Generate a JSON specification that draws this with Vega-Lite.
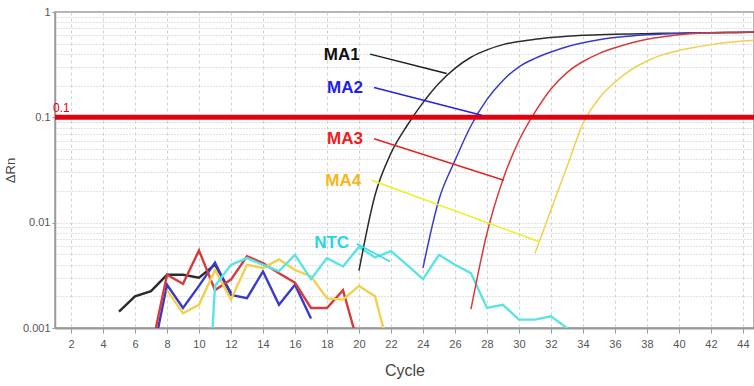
{
  "$schema": "https://vega.github.io/schema/vega-lite/v6.json",
  "width": 699,
  "height": 316,
  "autosize": {"type": "none"},
  "padding": {"left": 55, "top": 12, "right": 0, "bottom": 58},
  "background": "white",
  "config": {
    "view": {"stroke": "#9a9a9a", "strokeWidth": 1.5},
    "axis": {
      "labelFont": "Liberation Sans Narrow, Liberation Sans, Arial, sans-serif",
      "titleFont": "Liberation Sans, Arial, sans-serif",
      "titleFontWeight": "normal",
      "labelColor": "#555555",
      "titleColor": "#444444",
      "domainColor": "#9a9a9a",
      "tickColor": "#9a9a9a"
    }
  },
  "datasets": {
    "curves": [
      {"series": "MA1", "part": "noise", "cycle": 5, "rn": 0.00143},
      {"series": "MA1", "part": "noise", "cycle": 6, "rn": 0.0020},
      {"series": "MA1", "part": "noise", "cycle": 7, "rn": 0.00224},
      {"series": "MA1", "part": "noise", "cycle": 8, "rn": 0.0032},
      {"series": "MA1", "part": "noise", "cycle": 9, "rn": 0.0032},
      {"series": "MA1", "part": "noise", "cycle": 10, "rn": 0.0030},
      {"series": "MA1", "part": "noise", "cycle": 11, "rn": 0.0040},
      {"series": "MA1", "part": "noise", "cycle": 12, "rn": 0.00214},
      {"series": "MA1", "part": "amp", "cycle": 20, "rn": 0.0035},
      {"series": "MA1", "part": "amp", "cycle": 21, "rn": 0.0182},
      {"series": "MA1", "part": "amp", "cycle": 22, "rn": 0.0457},
      {"series": "MA1", "part": "amp", "cycle": 23, "rn": 0.0832},
      {"series": "MA1", "part": "amp", "cycle": 24, "rn": 0.138},
      {"series": "MA1", "part": "amp", "cycle": 25, "rn": 0.211},
      {"series": "MA1", "part": "amp", "cycle": 26, "rn": 0.292},
      {"series": "MA1", "part": "amp", "cycle": 27, "rn": 0.372},
      {"series": "MA1", "part": "amp", "cycle": 28, "rn": 0.437},
      {"series": "MA1", "part": "amp", "cycle": 29, "rn": 0.490},
      {"series": "MA1", "part": "amp", "cycle": 30, "rn": 0.525},
      {"series": "MA1", "part": "amp", "cycle": 31, "rn": 0.550},
      {"series": "MA1", "part": "amp", "cycle": 32, "rn": 0.572},
      {"series": "MA1", "part": "amp", "cycle": 33, "rn": 0.588},
      {"series": "MA1", "part": "amp", "cycle": 34, "rn": 0.600},
      {"series": "MA1", "part": "amp", "cycle": 35, "rn": 0.608},
      {"series": "MA1", "part": "amp", "cycle": 36, "rn": 0.614},
      {"series": "MA1", "part": "amp", "cycle": 37, "rn": 0.619},
      {"series": "MA1", "part": "amp", "cycle": 38, "rn": 0.623},
      {"series": "MA1", "part": "amp", "cycle": 39, "rn": 0.627},
      {"series": "MA1", "part": "amp", "cycle": 40, "rn": 0.630},
      {"series": "MA1", "part": "amp", "cycle": 41, "rn": 0.633},
      {"series": "MA1", "part": "amp", "cycle": 42, "rn": 0.636},
      {"series": "MA1", "part": "amp", "cycle": 43, "rn": 0.638},
      {"series": "MA1", "part": "amp", "cycle": 44, "rn": 0.640},
      {"series": "MA1", "part": "amp", "cycle": 45, "rn": 0.642},

      {"series": "MA2", "part": "noise", "cycle": 7, "rn": 0.00046},
      {"series": "MA2", "part": "noise", "cycle": 8, "rn": 0.00257},
      {"series": "MA2", "part": "noise", "cycle": 9, "rn": 0.00155},
      {"series": "MA2", "part": "noise", "cycle": 10, "rn": 0.00251},
      {"series": "MA2", "part": "noise", "cycle": 11, "rn": 0.00417},
      {"series": "MA2", "part": "noise", "cycle": 12, "rn": 0.00206},
      {"series": "MA2", "part": "noise", "cycle": 13, "rn": 0.00192},
      {"series": "MA2", "part": "noise", "cycle": 14, "rn": 0.00344},
      {"series": "MA2", "part": "noise", "cycle": 15, "rn": 0.00166},
      {"series": "MA2", "part": "noise", "cycle": 16, "rn": 0.00257},
      {"series": "MA2", "part": "noise", "cycle": 17, "rn": 0.00123},
      {"series": "MA2", "part": "amp", "cycle": 24, "rn": 0.00372},
      {"series": "MA2", "part": "amp", "cycle": 25, "rn": 0.0166},
      {"series": "MA2", "part": "amp", "cycle": 26, "rn": 0.0389},
      {"series": "MA2", "part": "amp", "cycle": 27, "rn": 0.0832},
      {"series": "MA2", "part": "amp", "cycle": 28, "rn": 0.148},
      {"series": "MA2", "part": "amp", "cycle": 29, "rn": 0.224},
      {"series": "MA2", "part": "amp", "cycle": 30, "rn": 0.302},
      {"series": "MA2", "part": "amp", "cycle": 31, "rn": 0.363},
      {"series": "MA2", "part": "amp", "cycle": 32, "rn": 0.417},
      {"series": "MA2", "part": "amp", "cycle": 33, "rn": 0.468},
      {"series": "MA2", "part": "amp", "cycle": 34, "rn": 0.510},
      {"series": "MA2", "part": "amp", "cycle": 35, "rn": 0.545},
      {"series": "MA2", "part": "amp", "cycle": 36, "rn": 0.572},
      {"series": "MA2", "part": "amp", "cycle": 37, "rn": 0.592},
      {"series": "MA2", "part": "amp", "cycle": 38, "rn": 0.607},
      {"series": "MA2", "part": "amp", "cycle": 39, "rn": 0.618},
      {"series": "MA2", "part": "amp", "cycle": 40, "rn": 0.626},
      {"series": "MA2", "part": "amp", "cycle": 41, "rn": 0.632},
      {"series": "MA2", "part": "amp", "cycle": 42, "rn": 0.636},
      {"series": "MA2", "part": "amp", "cycle": 43, "rn": 0.639},
      {"series": "MA2", "part": "amp", "cycle": 44, "rn": 0.641},
      {"series": "MA2", "part": "amp", "cycle": 45, "rn": 0.643},

      {"series": "MA3", "part": "noise", "cycle": 7, "rn": 0.0006},
      {"series": "MA3", "part": "noise", "cycle": 8, "rn": 0.0032},
      {"series": "MA3", "part": "noise", "cycle": 9, "rn": 0.00263},
      {"series": "MA3", "part": "noise", "cycle": 10, "rn": 0.00545},
      {"series": "MA3", "part": "noise", "cycle": 11, "rn": 0.00229},
      {"series": "MA3", "part": "noise", "cycle": 12, "rn": 0.00288},
      {"series": "MA3", "part": "noise", "cycle": 13, "rn": 0.00479},
      {"series": "MA3", "part": "noise", "cycle": 14, "rn": 0.00413},
      {"series": "MA3", "part": "noise", "cycle": 15, "rn": 0.00331},
      {"series": "MA3", "part": "noise", "cycle": 16, "rn": 0.00269},
      {"series": "MA3", "part": "noise", "cycle": 17, "rn": 0.00155},
      {"series": "MA3", "part": "noise", "cycle": 18, "rn": 0.00155},
      {"series": "MA3", "part": "noise", "cycle": 19, "rn": 0.00229},
      {"series": "MA3", "part": "noise", "cycle": 20, "rn": 0.00066},
      {"series": "MA3", "part": "amp", "cycle": 27, "rn": 0.00151},
      {"series": "MA3", "part": "amp", "cycle": 28, "rn": 0.00794},
      {"series": "MA3", "part": "amp", "cycle": 29, "rn": 0.0257},
      {"series": "MA3", "part": "amp", "cycle": 30, "rn": 0.0603},
      {"series": "MA3", "part": "amp", "cycle": 31, "rn": 0.112},
      {"series": "MA3", "part": "amp", "cycle": 32, "rn": 0.186},
      {"series": "MA3", "part": "amp", "cycle": 33, "rn": 0.266},
      {"series": "MA3", "part": "amp", "cycle": 34, "rn": 0.339},
      {"series": "MA3", "part": "amp", "cycle": 35, "rn": 0.403},
      {"series": "MA3", "part": "amp", "cycle": 36, "rn": 0.457},
      {"series": "MA3", "part": "amp", "cycle": 37, "rn": 0.507},
      {"series": "MA3", "part": "amp", "cycle": 38, "rn": 0.550},
      {"series": "MA3", "part": "amp", "cycle": 39, "rn": 0.582},
      {"series": "MA3", "part": "amp", "cycle": 40, "rn": 0.607},
      {"series": "MA3", "part": "amp", "cycle": 41, "rn": 0.624},
      {"series": "MA3", "part": "amp", "cycle": 42, "rn": 0.634},
      {"series": "MA3", "part": "amp", "cycle": 43, "rn": 0.640},
      {"series": "MA3", "part": "amp", "cycle": 44, "rn": 0.643},
      {"series": "MA3", "part": "amp", "cycle": 45, "rn": 0.645},

      {"series": "MA4", "part": "noise", "cycle": 8, "rn": 0.00229},
      {"series": "MA4", "part": "noise", "cycle": 9, "rn": 0.00138},
      {"series": "MA4", "part": "noise", "cycle": 10, "rn": 0.00166},
      {"series": "MA4", "part": "noise", "cycle": 11, "rn": 0.00355},
      {"series": "MA4", "part": "noise", "cycle": 12, "rn": 0.00186},
      {"series": "MA4", "part": "noise", "cycle": 13, "rn": 0.00398},
      {"series": "MA4", "part": "noise", "cycle": 14, "rn": 0.00372},
      {"series": "MA4", "part": "noise", "cycle": 15, "rn": 0.00447},
      {"series": "MA4", "part": "noise", "cycle": 16, "rn": 0.00355},
      {"series": "MA4", "part": "noise", "cycle": 17, "rn": 0.00309},
      {"series": "MA4", "part": "noise", "cycle": 18, "rn": 0.00191},
      {"series": "MA4", "part": "noise", "cycle": 19, "rn": 0.00186},
      {"series": "MA4", "part": "noise", "cycle": 20, "rn": 0.00251},
      {"series": "MA4", "part": "noise", "cycle": 21, "rn": 0.0020},
      {"series": "MA4", "part": "noise", "cycle": 22, "rn": 0.00053},
      {"series": "MA4", "part": "amp", "cycle": 31, "rn": 0.00513},
      {"series": "MA4", "part": "amp", "cycle": 32, "rn": 0.0132},
      {"series": "MA4", "part": "amp", "cycle": 33, "rn": 0.0339},
      {"series": "MA4", "part": "amp", "cycle": 34, "rn": 0.0871},
      {"series": "MA4", "part": "amp", "cycle": 35, "rn": 0.151},
      {"series": "MA4", "part": "amp", "cycle": 36, "rn": 0.216},
      {"series": "MA4", "part": "amp", "cycle": 37, "rn": 0.282},
      {"series": "MA4", "part": "amp", "cycle": 38, "rn": 0.343},
      {"series": "MA4", "part": "amp", "cycle": 39, "rn": 0.394},
      {"series": "MA4", "part": "amp", "cycle": 40, "rn": 0.432},
      {"series": "MA4", "part": "amp", "cycle": 41, "rn": 0.462},
      {"series": "MA4", "part": "amp", "cycle": 42, "rn": 0.490},
      {"series": "MA4", "part": "amp", "cycle": 43, "rn": 0.513},
      {"series": "MA4", "part": "amp", "cycle": 44, "rn": 0.531},
      {"series": "MA4", "part": "amp", "cycle": 45, "rn": 0.543},

      {"series": "NTC", "part": "noise", "cycle": 10, "rn": 0.000005},
      {"series": "NTC", "part": "noise", "cycle": 11, "rn": 0.00251},
      {"series": "NTC", "part": "noise", "cycle": 12, "rn": 0.00398},
      {"series": "NTC", "part": "noise", "cycle": 13, "rn": 0.00461},
      {"series": "NTC", "part": "noise", "cycle": 14, "rn": 0.00398},
      {"series": "NTC", "part": "noise", "cycle": 15, "rn": 0.00347},
      {"series": "NTC", "part": "noise", "cycle": 16, "rn": 0.00495},
      {"series": "NTC", "part": "noise", "cycle": 17, "rn": 0.00291},
      {"series": "NTC", "part": "noise", "cycle": 18, "rn": 0.00461},
      {"series": "NTC", "part": "noise", "cycle": 19, "rn": 0.00384},
      {"series": "NTC", "part": "noise", "cycle": 20, "rn": 0.00589},
      {"series": "NTC", "part": "noise", "cycle": 21, "rn": 0.00468},
      {"series": "NTC", "part": "noise", "cycle": 22, "rn": 0.00537},
      {"series": "NTC", "part": "noise", "cycle": 23, "rn": 0.00398},
      {"series": "NTC", "part": "noise", "cycle": 24, "rn": 0.00291},
      {"series": "NTC", "part": "noise", "cycle": 25, "rn": 0.00495},
      {"series": "NTC", "part": "noise", "cycle": 26, "rn": 0.00398},
      {"series": "NTC", "part": "noise", "cycle": 27, "rn": 0.00331},
      {"series": "NTC", "part": "noise", "cycle": 28, "rn": 0.00155},
      {"series": "NTC", "part": "noise", "cycle": 29, "rn": 0.00166},
      {"series": "NTC", "part": "noise", "cycle": 30, "rn": 0.0012},
      {"series": "NTC", "part": "noise", "cycle": 31, "rn": 0.0012},
      {"series": "NTC", "part": "noise", "cycle": 32, "rn": 0.00129},
      {"series": "NTC", "part": "noise", "cycle": 33, "rn": 0.001},
      {"series": "NTC", "part": "noise", "cycle": 34, "rn": 0.0005}
    ],
    "threshold": [
      {"cycle": 1, "cycle2": 45, "rn": 0.1}
    ],
    "leaders": [
      {"series": "MA1", "cycle": 20.69, "rn": 0.398, "cycle2": 25.48, "rn2": 0.261},
      {"series": "MA2", "cycle": 20.94, "rn": 0.192, "cycle2": 27.67, "rn2": 0.1045},
      {"series": "MA3", "cycle": 20.94, "rn": 0.0627, "cycle2": 29.06, "rn2": 0.0253},
      {"series": "MA4", "cycle": 20.79, "rn": 0.0253, "cycle2": 31.31, "rn2": 0.00655},
      {"series": "NTC", "cycle": 19.86, "rn": 0.00631, "cycle2": 21.94, "rn2": 0.00428}
    ],
    "labels": [
      {"series": "MA1", "cycle": 18.92, "rn": 0.394},
      {"series": "MA2", "cycle": 19.125, "rn": 0.188},
      {"series": "MA3", "cycle": 19.125, "rn": 0.0621},
      {"series": "MA4", "cycle": 19.02, "rn": 0.025},
      {"series": "NTC", "cycle": 18.29, "rn": 0.00641}
    ]
  },
  "encoding": {
    "x": {
      "field": "cycle", "type": "quantitative",
      "scale": {"domain": [1, 44.69], "nice": false, "zero": false},
      "axis": {
        "title": "Cycle",
        "values": [2, 4, 6, 8, 10, 12, 14, 16, 18, 20, 22, 24, 26, 28, 30, 32, 34, 36, 38, 40, 42, 44],
        "grid": true, "gridColor": "#d2d2d2", "gridDash": [3, 3], "gridWidth": 1,
        "domainWidth": 2, "tickSize": 5, "labelPadding": 5, "labelFontSize": 11,
        "titleFontSize": 16, "titlePadding": 13
      }
    }
  },
  "layer": [
    {
      "data": {"name": "curves"},
      "transform": [{"filter": "datum.part === 'noise'"}],
      "mark": {"type": "line", "clip": true, "strokeWidth": 2.4},
      "encoding": {
        "y": {
          "field": "rn", "type": "quantitative",
          "scale": {"type": "log", "domain": [0.001, 1], "nice": false},
          "axis": {
            "orient": "right", "title": null, "labels": false, "ticks": false, "domain": false,
            "grid": true, "gridColor": "#c4c4c4", "gridDash": [1, 2], "gridWidth": 1,
            "values": [0.001, 0.002, 0.003, 0.004, 0.005, 0.006, 0.007, 0.008, 0.009, 0.01, 0.02, 0.03, 0.04, 0.05, 0.06, 0.07, 0.08, 0.09, 0.1, 0.2, 0.3, 0.4, 0.5, 0.6, 0.7, 0.8, 0.9, 1]
          }
        },
        "color": {
          "field": "series", "type": "nominal", "legend": null,
          "scale": {"domain": ["MA1", "MA2", "MA3", "MA4", "NTC"], "range": ["#2b2b2b", "#3a3ac8", "#d63c3c", "#f0d04c", "#5ce4e4"]}
        },
        "detail": {"field": "part"}
      }
    },
    {
      "data": {"name": "curves"},
      "transform": [{"filter": "datum.part === 'amp'"}],
      "mark": {"type": "line", "clip": true, "strokeWidth": 1.5, "interpolate": "monotone"},
      "encoding": {
        "y": {
          "field": "rn", "type": "quantitative",
          "scale": {"type": "log", "domain": [0.001, 1], "nice": false},
          "axis": {
            "orient": "left", "title": "ΔRn", "grid": false,
            "values": [0.001, 0.01, 0.1, 1], "format": "~g",
            "domainWidth": 1.5, "tickSize": 3, "labelPadding": 2, "labelFontSize": 11,
            "titleFontSize": 13, "titlePadding": 5
          }
        },
        "color": {
          "field": "series", "type": "nominal", "legend": null,
          "scale": {"domain": ["MA1", "MA2", "MA3", "MA4", "NTC"], "range": ["#2b2b2b", "#3a3ac8", "#d63c3c", "#f0d04c", "#5ce4e4"]}
        }
      }
    },
    {
      "data": {"name": "threshold"},
      "mark": {"type": "rule", "color": "#e3000f", "strokeWidth": 5, "clip": true},
      "encoding": {
        "x2": {"field": "cycle2"},
        "y": {"field": "rn", "type": "quantitative", "scale": {"type": "log", "domain": [0.001, 1], "nice": false}, "axis": null}
      }
    },
    {
      "data": {"name": "threshold"},
      "mark": {"type": "text", "color": "#e3000f", "font": "Liberation Sans Narrow, Liberation Sans, sans-serif", "fontSize": 12, "align": "left", "baseline": "bottom", "dx": -2, "dy": -2},
      "encoding": {
        "y": {"field": "rn", "type": "quantitative", "scale": {"type": "log", "domain": [0.001, 1], "nice": false}, "axis": null},
        "text": {"field": "rn", "type": "quantitative", "format": "~g"}
      }
    },
    {
      "data": {"name": "leaders"},
      "mark": {"type": "rule", "strokeWidth": 1.5},
      "encoding": {
        "x2": {"field": "cycle2"},
        "y": {"field": "rn", "type": "quantitative", "scale": {"type": "log", "domain": [0.001, 1], "nice": false}, "axis": null},
        "y2": {"field": "rn2"},
        "color": {
          "field": "series", "type": "nominal", "legend": null,
          "scale": {"domain": ["MA1", "MA2", "MA3", "MA4", "NTC"], "range": ["#1a1a1a", "#2424e0", "#e42424", "#eeee20", "#30dce6"]}
        }
      }
    },
    {
      "data": {"name": "labels"},
      "mark": {"type": "text", "font": "Liberation Sans, Arial, sans-serif", "fontWeight": "bold", "fontSize": 17, "align": "center", "baseline": "middle"},
      "encoding": {
        "y": {"field": "rn", "type": "quantitative", "scale": {"type": "log", "domain": [0.001, 1], "nice": false}, "axis": null},
        "text": {"field": "series"},
        "color": {
          "field": "series", "type": "nominal", "legend": null,
          "scale": {"domain": ["MA1", "MA2", "MA3", "MA4", "NTC"], "range": ["#111111", "#1e1ef2", "#f01c1c", "#f6b71a", "#26d6e6"]}
        }
      }
    }
  ],
  "resolve": {"axis": {"y": "independent"}, "scale": {"color": "independent"}}
}
